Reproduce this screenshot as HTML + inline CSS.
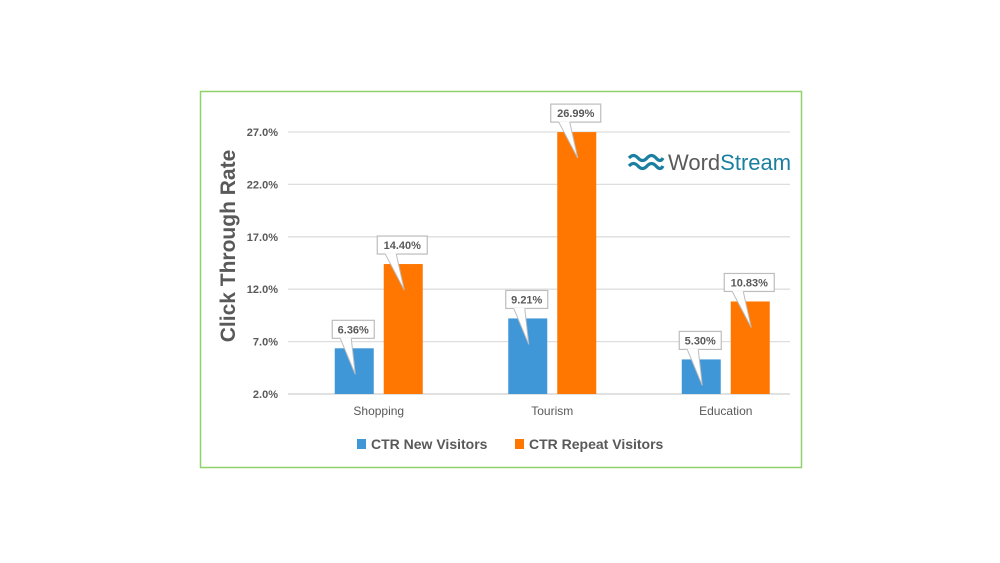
<!DOCTYPE html>
<html><head><meta charset="utf-8"><style>
body{margin:0;background:#fff;width:1000px;height:558px;overflow:hidden;font-family:"Liberation Sans",sans-serif}
</style></head><body>
<svg width="1000" height="558" xmlns="http://www.w3.org/2000/svg" font-family="Liberation Sans, sans-serif">
<rect x="200.5" y="91.5" width="601" height="376" fill="#fff" stroke="#8fd16a" stroke-width="1.5"/>
<g id="grid"></g>
<g id="bars"></g>
<g id="labels"></g>
<text transform="translate(235,246) rotate(-90)" text-anchor="middle" font-size="21" font-weight="bold" fill="#595959">Click Through Rate</text>
<g>
<path d="M629 158 q4.5 -5 9 0 t9 0 t9 0 t7 0" fill="none" stroke="#1a7fa0" stroke-width="3.2"/>
<path d="M629 166 q4.5 -5 9 0 t9 0 t9 0 t7 0" fill="none" stroke="#1a7fa0" stroke-width="3.2"/>
<text x="668" y="170" font-size="22" fill="#5a5a5a">Word<tspan fill="#1a7fa0">Stream</tspan></text>
</g>
<g>
<rect x="357" y="439" width="9" height="10" fill="#3f97d8"/>
<text x="371" y="449" font-size="14" font-weight="bold" fill="#595959">CTR New Visitors</text>
<rect x="515" y="439" width="9" height="10" fill="#ff7700"/>
<text x="529" y="449" font-size="14" font-weight="bold" fill="#595959">CTR Repeat Visitors</text>
</g>
</svg>
<script>
const categories=["Shopping","Tourism","Education"];
const newVisitors=[6.36,9.21,5.30];
const repeatVisitors=[14.40,26.99,10.83];
const ticks=[2,7,12,17,22,27];
const tickLabels=["2.0%","7.0%","12.0%","17.0%","22.0%","27.0%"];
const NS="http://www.w3.org/2000/svg";
const y0=394, pxPer=52.4/5, plotL=292, band=173.5;
const y=v=>y0-(v-2)*pxPer;
const xc=i=>plotL+band*(i+0.5);
function mk(t,a,p){const e=document.createElementNS(NS,t);for(const k in a)e.setAttribute(k,a[k]);p.appendChild(e);return e;}
const grid=document.getElementById('grid'),bars=document.getElementById('bars'),labels=document.getElementById('labels');
ticks.forEach((t,i)=>{
  const l=mk('line',{x1:288,x2:790,y1:y(t),y2:y(t),stroke:i==0?'#cfcfcf':'#dedede','stroke-width':1.3},grid);
  
  
  const tx=mk('text',{x:278,y:y(t)+4,'text-anchor':'end','font-size':11,'font-weight':'bold',fill:'#595959'},grid);
  tx.textContent=tickLabels[i];
  
  
});
function bar(cx,v,color,name){
  const w=39;
  const r=mk('rect',{x:cx-w/2,y:y(v),width:w,height:y0-y(v),fill:color},bars);
  
  
  const bw=v>=10?50:42, bx=cx-bw/2-1, bb=y(v)-10, bt=bb-18;
  const g=mk('g',{},labels);
  
  
  mk('rect',{x:bx,y:bt,width:bw,height:18,fill:'#fff',stroke:'#bdbdbd','stroke-width':1.2},g);
  mk('polygon',{points:`${bx+8},${bb-0.5} ${bx+19},${bb-0.5} ${cx+1},${y(v)+26}`,fill:'#fff'},g);
  mk('polyline',{points:`${bx+8},${bb} ${cx+1},${y(v)+26} ${bx+19},${bb}`,fill:'none',stroke:'#bdbdbd','stroke-width':1},g);
  const t=mk('text',{x:bx+bw/2,y:bt+13,'text-anchor':'middle','font-size':11,'font-weight':'bold',fill:'#595959'},g);
  t.textContent=v.toFixed(2)+'%';
}
categories.forEach((c,i)=>{
  bar(xc(i)-24.5,newVisitors[i],'#3f97d8','bar-new-'+c.toLowerCase());
  bar(xc(i)+24.5,repeatVisitors[i],'#ff7700','bar-repeat-'+c.toLowerCase());
  const t=mk('text',{x:xc(i),y:415,'text-anchor':'middle','font-size':12,fill:'#595959'},grid);
  t.textContent=c;
  
  
});
</script>
</body></html>
